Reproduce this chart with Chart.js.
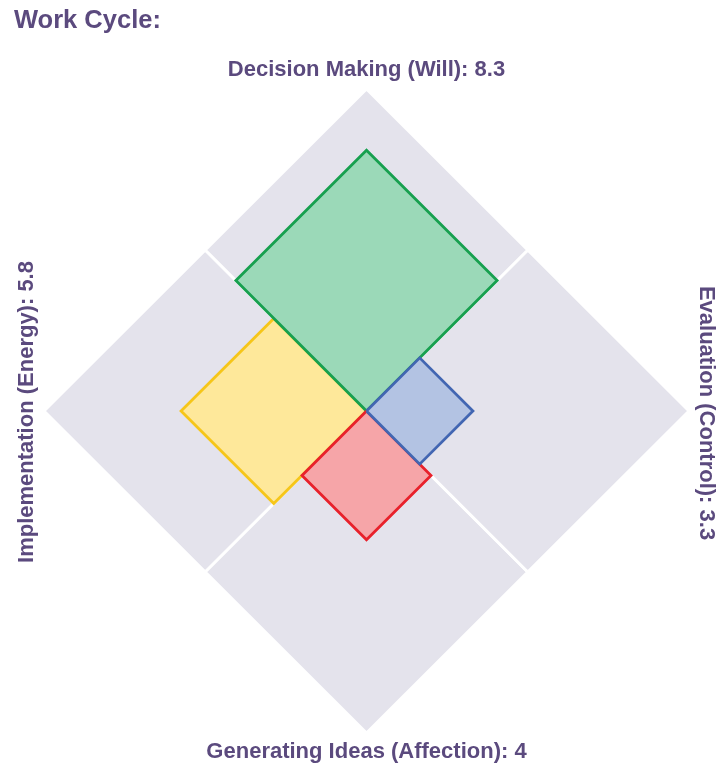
<!DOCTYPE html>
<html>
<head>
<meta charset="utf-8">
<script src="https://cdn.jsdelivr.net/npm/chart.js@4/dist/chart.umd.min.js"></script>
<style>
  html, body { margin: 0; padding: 0; background: #fff; }
  #wrap { width: 721px; height: 769px; position: relative; }
</style>
</head>
<body>
<div id="wrap"><canvas id="cycle"></canvas></div>
<script>
// Work cycle diamond: one square per quadrant, size = score (out of 10)
const title = "Work Cycle:";
const categories = ["Decision Making (Will)", "Evaluation (Control)", "Generating Ideas (Affection)", "Implementation (Energy)"];
const scoreLabels = ["8.3", "3.3", "4", "5.8"];
// sizes as drawn in the source (the green one is drawn a bit under its 8.3)
const squareSizes = [8.1, 3.3, 4, 5.75];
const maxScore = 10;

const fills = ["#9bd9b8", "#b3c3e3", "#f6a5a8", "#fee89a"];
const borders = ["#17a04f", "#4266b2", "#e8212b", "#f6c619"];
const textColor = "#5b4a7e";

// corners of the square sitting in quadrant q (0 top, 1 right, 2 bottom, 3 left)
function quadSquare(q, v) {
  const h = v / 2;
  let pts;
  if (q === 0) pts = [[0, 0], [h, h], [0, v], [-h, h]];
  else if (q === 1) pts = [[0, 0], [h, -h], [v, 0], [h, h]];
  else if (q === 2) pts = [[0, 0], [-h, -h], [0, -v], [h, -h]];
  else pts = [[0, 0], [-h, h], [-v, 0], [-h, -h]];
  pts.push(pts[0]);
  return pts.map(([x, y]) => ({ x, y }));
}

const datasets = [];
// grey background quadrants, white edges make the dividing lines
categories.forEach((c, q) => {
  datasets.push({
    label: c + " (max)",
    data: quadSquare(q, maxScore),
    showLine: true,
    fill: "shape",
    backgroundColor: "#e4e3ec",
    borderColor: "#ffffff",
    borderWidth: 3,
    pointRadius: 0,
    tension: 0,
    order: 2,
  });
});
categories.forEach((c, q) => {
  datasets.push({
    label: c,
    data: quadSquare(q, squareSizes[q]),
    showLine: true,
    fill: "shape",
    backgroundColor: fills[q],
    borderColor: borders[q],
    borderWidth: 2.8,
    borderJoinStyle: "miter",
    pointRadius: 0,
    tension: 0,
    order: q < 1 || q === 3 ? 1 : 0,
  });
});

const labelPlugin = {
  id: "labels",
  afterDraw(chart) {
    const ctx = chart.ctx;
    const a = chart.chartArea;
    const cx = (a.left + a.right) / 2;
    const cy = (a.top + a.bottom) / 2;
    const text = (i) => categories[i] + ": " + scoreLabels[i];
    ctx.save();
    ctx.fillStyle = textColor;
    ctx.font = "bold 25.5px 'Liberation Sans', Arial, sans-serif";
    ctx.textAlign = "left";
    ctx.textBaseline = "alphabetic";
    ctx.fillText(title, 14, 28);

    ctx.font = "bold 22px 'Liberation Sans', Arial, sans-serif";
    ctx.textAlign = "center";
    ctx.textBaseline = "middle";
    ctx.fillText(text(0), cx, 70);
    ctx.fillText(text(2), cx, 752);

    ctx.save();
    ctx.translate(706, cy + 2);
    ctx.rotate(Math.PI / 2);
    ctx.fillText(text(1), 0, 0);
    ctx.restore();

    ctx.save();
    ctx.translate(27, cy + 1);
    ctx.rotate(-Math.PI / 2);
    ctx.fillText(text(3), 0, 0);
    ctx.restore();
    ctx.restore();
  },
};

new Chart(document.getElementById("cycle"), {
  type: "scatter",
  data: { datasets },
  options: {
    responsive: true,
    maintainAspectRatio: false,
    animation: false,
    clip: false,
    layout: { padding: { left: 44, right: 32, top: 89, bottom: 36 } },
    plugins: {
      legend: { display: false },
      tooltip: { enabled: false },
    },
    scales: {
      x: { type: "linear", min: -maxScore, max: maxScore, display: false },
      y: { type: "linear", min: -maxScore, max: maxScore, display: false },
    },
  },
  plugins: [labelPlugin],
});
</script>
</body>
</html>
